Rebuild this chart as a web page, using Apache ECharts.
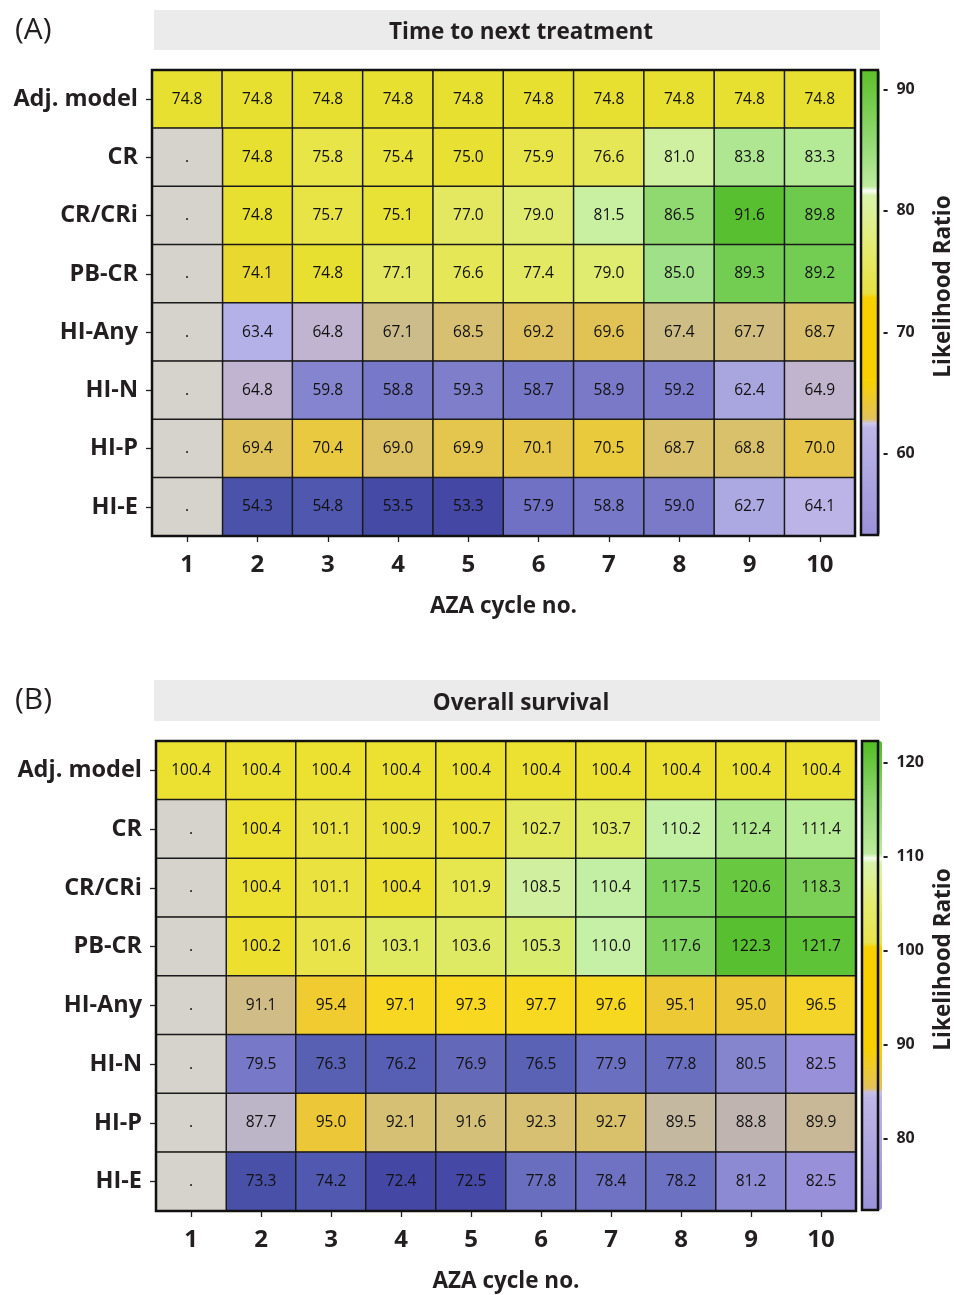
<!DOCTYPE html>
<html><head><meta charset="utf-8">
<script src="https://cdn.jsdelivr.net/npm/echarts@6/dist/echarts.min.js"></script>
<style>html,body{margin:0;padding:0;background:#fff}#c{width:956px;height:1295px}</style>
</head><body><div id="c"></div>
<script>
// ---------- data ----------
const cycles = ['1','2','3','4','5','6','7','8','9','10'];
const rowLabels = ['Adj. model','CR','CR/CRi','PB-CR','HI-Any','HI-N','HI-P','HI-E'];

// (A) Time to next treatment
const ttntAdjModel = [74.8,74.8,74.8,74.8,74.8,74.8,74.8,74.8,74.8,74.8];
const ttntCR       = [null,74.8,75.8,75.4,75.0,75.9,76.6,81.0,83.8,83.3];
const ttntCRCRi    = [null,74.8,75.7,75.1,77.0,79.0,81.5,86.5,91.6,89.8];
const ttntPBCR     = [null,74.1,74.8,77.1,76.6,77.4,79.0,85.0,89.3,89.2];
const ttntHIAny    = [null,63.4,64.8,67.1,68.5,69.2,69.6,67.4,67.7,68.7];
const ttntHIN      = [null,64.8,59.8,58.8,59.3,58.7,58.9,59.2,62.4,64.9];
const ttntHIP      = [null,69.4,70.4,69.0,69.9,70.1,70.5,68.7,68.8,70.0];
const ttntHIE      = [null,54.3,54.8,53.5,53.3,57.9,58.8,59.0,62.7,64.1];

// (B) Overall survival
const osAdjModel = [100.4,100.4,100.4,100.4,100.4,100.4,100.4,100.4,100.4,100.4];
const osCR       = [null,100.4,101.1,100.9,100.7,102.7,103.7,110.2,112.4,111.4];
const osCRCRi    = [null,100.4,101.1,100.4,101.9,108.5,110.4,117.5,120.6,118.3];
const osPBCR     = [null,100.2,101.6,103.1,103.6,105.3,110.0,117.6,122.3,121.7];
const osHIAny    = [null,91.1,95.4,97.1,97.3,97.7,97.6,95.1,95.0,96.5];
const osHIN      = [null,79.5,76.3,76.2,76.9,76.5,77.9,77.8,80.5,82.5];
const osHIP      = [null,87.7,95.0,92.1,91.6,92.3,92.7,89.5,88.8,89.9];
const osHIE      = [null,73.3,74.2,72.4,72.5,77.8,78.4,78.2,81.2,82.5];

const ttntTicks = [60,70,80,90];
const osTicks = [80,90,100,110,120];

// ---------- colour ramps (style) ----------
const cellStopsA = [[53.3,'#4448a4'],[54.5,'#4c54ac'],[55,'#5058b0'],[57.9,'#7070c4'],[58.8,'#7878c8'],[59.5,'#8080cc'],[60,'#8888d0'],[62.5,'#aaa6e0'],[63.4,'#b4b0e8'],[64.1,'#bcb4e8'],[64.8,'#c0b4d0'],[67.2,'#ccbc88'],[68.6,'#d8c070'],[69.5,'#e0c258'],[70.1,'#e6c648'],[70.5,'#eaca3c'],[73,'#eed228'],[74.1,'#e8d830'],[74.8,'#e8e030'],[75.5,'#e8e440'],[77,'#e4e860'],[79,'#e0ec70'],[81,'#d0f0a0'],[81.5,'#c8f0a0'],[83.5,'#b2e894'],[85,'#a0e088'],[86.5,'#90d870'],[89.5,'#70cc50'],[91.6,'#58c030']];
const cellStopsB = [[72.4,'#4448a4'],[73.3,'#4850a8'],[74.2,'#5058b0'],[76.4,'#5860b4'],[76.9,'#6468b8'],[78,'#6c70c0'],[79.5,'#7878c8'],[80.8,'#8888d0'],[82.5,'#9890d8'],[87.7,'#bcb4c8'],[88.8,'#c0b4b0'],[89.5,'#c4b8a0'],[89.9,'#c8b898'],[91.1,'#d0bc88'],[91.6,'#d4c078'],[92.5,'#d8c070'],[95,'#ecc838'],[95.4,'#f0cc30'],[96.5,'#f4d428'],[97.3,'#f8d820'],[99.5,'#f0dc28'],[100.4,'#ece030'],[101.5,'#e8e448'],[103,'#e0ea60'],[105.3,'#d8ec70'],[108.5,'#d0f0a0'],[110.2,'#c4f0a6'],[111.4,'#b8ec98'],[112.4,'#b0e890'],[117.5,'#80d460'],[118.3,'#7cd058'],[120.6,'#68c840'],[122.3,'#58c030']];
const barStopsA = [[53.3,'#9a92d8'],[62.5,'#c0b8e8'],[62.55,'#ffffff'],[62.65,'#ffffff'],[62.7,'#e0c060'],[66.1,'#f8d000'],[72.95,'#f8d000'],[73.0,'#e8e040'],[77,'#e4ec70'],[81.55,'#d8f4b0'],[81.6,'#ffffff'],[81.7,'#ffffff'],[81.75,'#c0eca0'],[86,'#90d870'],[91.6,'#5cbf28']];
const barStopsB = [[72.4,'#9a92d8'],[84.9,'#c0b8e8'],[84.95,'#ffffff'],[85.05,'#ffffff'],[85.1,'#e0c060'],[89.7,'#f8d000'],[100.45,'#f8d000'],[100.5,'#e8e448'],[105,'#e4ec70'],[109.75,'#d8f4b0'],[109.8,'#ffffff'],[109.9,'#ffffff'],[109.95,'#c0eca0'],[116,'#90d870'],[122.3,'#52bc22']];

function hex(c){return [parseInt(c.slice(1,3),16),parseInt(c.slice(3,5),16),parseInt(c.slice(5,7),16)];}
function interp(stops,v){
  if(v<=stops[0][0]) return stops[0][1];
  for(let i=1;i<stops.length;i++){
    if(v<=stops[i][0]){
      const [v0,c0]=stops[i-1],[v1,c1]=stops[i];
      const t=(v-v0)/(v1-v0), a=hex(c0), b=hex(c1);
      return 'rgb('+a.map((x,k)=>Math.round(x+(b[k]-x)*t)).join(',')+')';
    }
  }
  return stops[stops.length-1][1];
}
function ramp(stops,min,max,n){const out=[];for(let i=0;i<n;i++){out.push(interp(stops,min+(max-min)*i/(n-1)));}return out;}

function cells(rows){
  const vals=[],miss=[];
  rows.forEach((r,yi)=>r.forEach((v,xi)=>{ if(v==null) miss.push([xi,yi,0]); else vals.push([xi,yi,v]); }));
  return {vals,miss};
}
const A = cells([ttntAdjModel,ttntCR,ttntCRCRi,ttntPBCR,ttntHIAny,ttntHIN,ttntHIP,ttntHIE]);
const B = cells([osAdjModel,osCR,osCRCRi,osPBCR,osHIAny,osHIN,osHIP,osHIE]);
const allA = A.vals.map(d=>d[2]), allB = B.vals.map(d=>d[2]);
const minA=Math.min(...allA), maxA=Math.max(...allA), minB=Math.min(...allB), maxB=Math.max(...allB);

const FONT = 'Open Sans';
const DARK = '#231f20';
const grids = [
  {left:152, top:70, width:703, height:466},
  {left:156, top:741, width:700, height:470},
  {left:861, top:70, width:19, height:465},
  {left:862, top:741, width:20, height:469}
];

function heatAxes(gi){
  return {
    x:{type:'category', gridIndex:gi, data:cycles, position:'bottom',
      axisLine:{show:false}, splitLine:{show:false}, splitArea:{show:false},
      axisTick:{show:true, alignWithLabel:true, length:6, lineStyle:{color:DARK,width:1.3}},
      axisLabel:{fontSize:24, fontWeight:'bold', fontFamily:FONT, color:DARK, margin:17},
      name:'AZA cycle no.', nameLocation:'middle', nameGap:59,
      nameTextStyle:{fontSize:22.5, fontWeight:'bold', fontFamily:FONT, color:DARK}},
    y:{type:'category', gridIndex:gi, data:rowLabels, inverse:true,
      axisLine:{show:false}, splitLine:{show:false}, splitArea:{show:false},
      axisTick:{show:true, alignWithLabel:true, length:6, lineStyle:{color:DARK,width:1.3}},
      axisLabel:{fontSize:23.5, fontWeight:'bold', fontFamily:FONT, color:DARK, margin:14}}
  };
}
const ha = heatAxes(0), hb = heatAxes(1);

function barAxis(gi,min,max,ticks){
  return {type:'value', gridIndex:gi, min:min, max:max, position:'right', offset:4,
    axisLine:{show:false}, splitLine:{show:false},
    axisTick:{show:false},
    axisLabel:{fontSize:16, fontWeight:'bold', fontFamily:FONT, color:DARK, margin:1, customValues:ticks,
      formatter: v => '-  ' + v},
    name:'Likelihood Ratio', nameLocation:'middle', nameRotate:90, nameGap:50,
    nameTextStyle:{fontSize:22.5, fontWeight:'bold', fontFamily:FONT, color:DARK, padding:[0,0,0,32]}};
}
function barX(gi){return {type:'value', gridIndex:gi, show:false, min:0, max:1};}

function heatSeries(xi,yi,data,label){
  return {type:'heatmap', xAxisIndex:xi, yAxisIndex:yi, data:data,
    itemStyle:{borderColor:'#1a1a1a', borderWidth:1.5},
    label:{show:true, fontSize:15.5, fontFamily:FONT, color:'#111', formatter:label},
    emphasis:{disabled:true}};
}
const fmt = p => p.value[2].toFixed(1);
const dot = () => '.';

const missA = heatSeries(0,0,A.miss,dot); missA.itemStyle.color='#d6d2cc';
const missB = heatSeries(1,1,B.miss,dot); missB.itemStyle.color='#d6d2cc';

const chart = echarts.init(document.getElementById('c'), null, {renderer:'canvas'});
chart.setOption({
  animation:false,
  backgroundColor:'#fff',
  graphic:[
    {type:'rect', shape:{x:154,y:10,width:726,height:40}, style:{fill:'#ebebeb'}, z:-1},
    {type:'rect', shape:{x:154,y:680,width:726,height:41}, style:{fill:'#ebebeb'}, z:-1}
  ],
  title:[
    {text:'(A)', left:10, top:10, textStyle:{fontSize:30, fontWeight:'normal', fontFamily:FONT, color:DARK}},
    {text:'(B)', left:10, top:680, textStyle:{fontSize:30, fontWeight:'normal', fontFamily:FONT, color:DARK}},
    {text:'Time to next treatment', left:516, textAlign:'center', top:16, textStyle:{fontSize:22.5, fontWeight:'bold', fontFamily:FONT, color:DARK}},
    {text:'Overall survival', left:516, textAlign:'center', top:687, textStyle:{fontSize:22.5, fontWeight:'bold', fontFamily:FONT, color:DARK}}
  ],
  grid: grids.map(g=>Object.assign({show:true, borderColor:'#111', borderWidth:2.5, backgroundColor:'transparent', z:5, containLabel:false}, g)),
  xAxis:[ha.x, hb.x, barX(2), barX(3)],
  yAxis:[ha.y, hb.y, barAxis(2,minA,maxA,ttntTicks), barAxis(3,minB,maxB,osTicks)],
  visualMap:[
    {type:'continuous', seriesIndex:0, min:minA, max:maxA, calculable:false, orient:'vertical',
     left:861, top:70, itemWidth:19, itemHeight:465, padding:0, text:null, showLabel:false, hoverLink:false,
     inRange:{color:ramp(cellStopsA,minA,maxA,400)},
     controller:{inRange:{color:ramp(barStopsA,minA,maxA,400)}}},
    {type:'continuous', seriesIndex:2, min:minB, max:maxB, calculable:false, orient:'vertical',
     left:862, top:741, itemWidth:20, itemHeight:469, padding:0, text:null, showLabel:false, hoverLink:false,
     inRange:{color:ramp(cellStopsB,minB,maxB,400)},
     controller:{inRange:{color:ramp(barStopsB,minB,maxB,400)}}}
  ],
  series:[
    heatSeries(0,0,A.vals,fmt),
    missA,
    heatSeries(1,1,B.vals,fmt),
    missB,
    {type:'scatter', xAxisIndex:2, yAxisIndex:2, data:[]},
    {type:'scatter', xAxisIndex:3, yAxisIndex:3, data:[]}
  ]
});
</script></body></html>
